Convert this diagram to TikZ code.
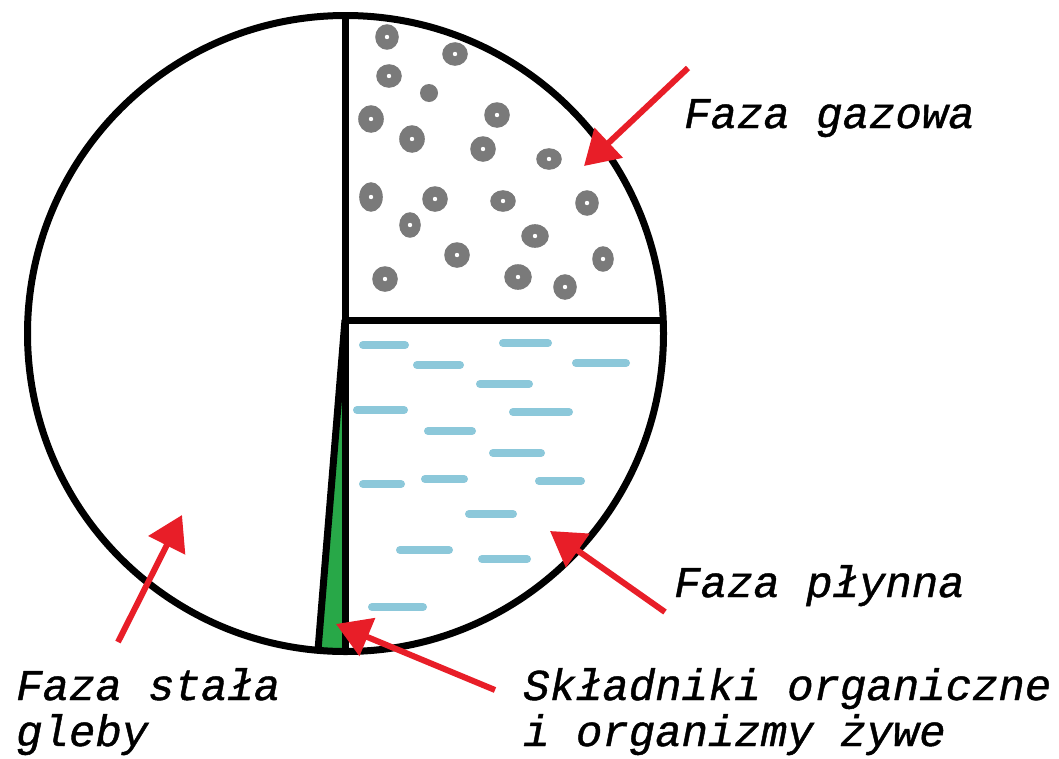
\documentclass[tikz,border=0pt]{standalone}
\usepackage{fontspec}
\newfontfamily\courfont[FakeBold=1]{Liberation Mono}
\usetikzlibrary{arrows.meta}
\definecolor{arrowred}{RGB}{232,30,40}
\definecolor{bubblegray}{RGB}{122,122,122}
\definecolor{waterblue}{RGB}{140,200,218}
\definecolor{orggreen}{RGB}{40,168,72}
\tikzset{
  outline/.style={line width=7pt, black},
  pointer/.style={line width=6pt, arrowred, -{Triangle[length=34pt,width=40pt]}},
  label/.style={font=\courfont\itshape\fontsize{44}{46}\selectfont, inner sep=0pt, anchor=base west, align=left},
  drop/.style={line width=8pt, waterblue, line cap=round},
}
\newcommand{\bubble}[4]{%
  \fill[bubblegray] (#1,#2) ellipse[x radius=#3+0.8, y radius=#4+0.8];
  \fill[white] (#1,#2) circle[radius=2.2];
}
\begin{document}
\begin{tikzpicture}[x=1pt,y=-1pt]
\useasboundingbox (0,0) rectangle (1059,758);
\fill[white] (0,0) rectangle (1059,758);
\coordinate (C) at (345.5,333.5);
% bubbles
\bubble{387}{37}{11}{12}
\bubble{455}{54}{12}{11}
\bubble{389}{76}{12}{11}
\fill[bubblegray] (429,93) circle[radius=9];
\bubble{371}{119}{12}{13}
\bubble{497}{115}{12}{12}
\bubble{412}{139}{12}{13}
\bubble{483}{149}{12}{12}
\bubble{549}{159}{12}{10}
\bubble{371}{197}{11}{14}
\bubble{435}{199}{12}{12}
\bubble{503}{201}{12}{10}
\bubble{587}{203}{11}{12}
\bubble{410}{225}{10}{12}
\bubble{535}{236}{13}{11}
\bubble{457}{255}{12}{12}
\bubble{603}{259}{10}{12}
\bubble{385}{279}{12}{12}
\bubble{518}{277}{13}{12}
\bubble{565}{287}{11}{12}
% water
\draw[drop] (363,345) -- (405,345);
\draw[drop] (503,343) -- (548,343);
\draw[drop] (417,365) -- (460,365);
\draw[drop] (576,363) -- (626,363);
\draw[drop] (480,384) -- (529,384);
\draw[drop] (357,410) -- (404,410);
\draw[drop] (513,412) -- (569,412);
\draw[drop] (428,431) -- (472,431);
\draw[drop] (493,453) -- (541,453);
\draw[drop] (363,484) -- (401,484);
\draw[drop] (425,479) -- (464,479);
\draw[drop] (539,481) -- (581,481);
\draw[drop] (469,514) -- (513,514);
\draw[drop] (400,550) -- (449,550);
\draw[drop] (482,559) -- (527,559);
\draw[drop] (372,607) -- (423,607);
% green wedge
\begin{scope}
\clip (C) circle[radius=318];
\fill[orggreen] (345,320) -- (317,660) -- (345,660) -- cycle;
\end{scope}
% partition lines
\coordinate (top) at (345,15.5);
\coordinate (mid) at (345,320);
\coordinate (rgt) at (663,320);
\coordinate (bot) at (345,651);
\coordinate (slant) at (318,650);
\draw[outline] (top) -- (mid) -- (rgt);
\draw[outline] (mid) -- (bot);
\draw[outline, line join=miter] (mid) -- (slant);
\draw[outline] (C) circle[radius=318];
% arrows
\coordinate (gasT) at (688,68);
\coordinate (gasH) at (584,166);
\coordinate (liqT) at (665,612);
\coordinate (liqH) at (550,531);
\coordinate (solT) at (118,642);
\coordinate (solH) at (182,515);
\coordinate (orgT) at (495,690);
\coordinate (orgH) at (336,624);
\draw[pointer] (gasT) -- (gasH);
\draw[pointer] (liqT) -- (liqH);
\draw[pointer] (solT) -- (solH);
\draw[pointer] (orgT) -- (orgH);
% labels
\node[label] (gas) at (684,128) {Faza gazowa};
\node[label] (liq) at (674,597) {Faza płynna};
\node[label] (sol) at (16,746) {Faza stała\\gleby};
\node[label] (org) at (523,746) {Składniki organiczne\\i organizmy żywe};
\end{tikzpicture}
\end{document}
